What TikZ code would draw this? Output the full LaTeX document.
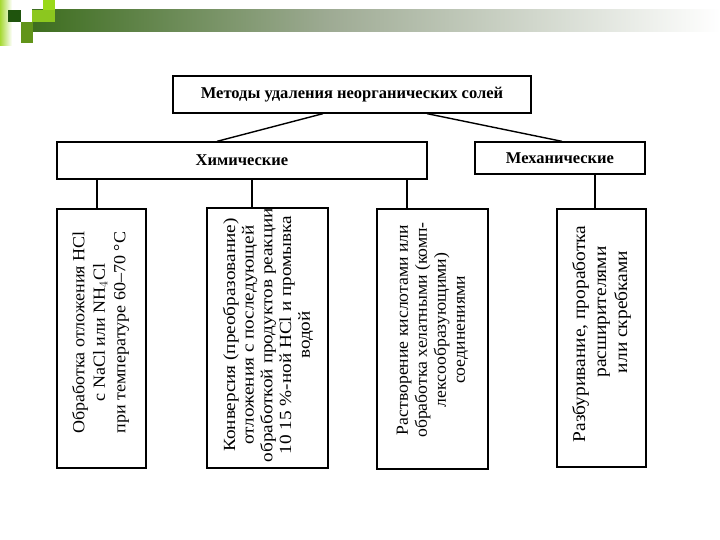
\documentclass[tikz,border=0pt]{standalone}
\usepackage{fontspec}
\setmainfont{Liberation Serif}
\newfontfamily\fsa[FakeStretch=1.06]{Liberation Serif}
\newfontfamily\fsb[FakeStretch=1.13]{Liberation Serif}
\newfontfamily\fsc[FakeStretch=1.04]{Liberation Serif}
\newfontfamily\fsd[FakeStretch=1.08]{Liberation Serif}
\definecolor{gdark}{rgb}{0.24,0.43,0.12}
\definecolor{gmid}{rgb}{0.62,0.67,0.58}
\definecolor{gsq1}{rgb}{0.12,0.33,0.05}
\definecolor{gsq2}{rgb}{0.55,0.78,0.12}
\definecolor{gsq3}{rgb}{0.6,0.85,0.1}
\definecolor{gsq4}{rgb}{0.38,0.58,0.1}
\definecolor{glight}{rgb}{0.65,0.85,0.2}
\begin{document}
\begin{tikzpicture}[x=1pt,y=1pt,
  box/.style={draw=black,line width=1.3pt,fill=white,inner sep=0pt,align=center},
  head/.style={box,font=\fontsize{16.5}{19}\selectfont\bfseries},
  vtext/.style={rotate=90,inner sep=0pt,align=center},
  conn/.style={line width=1.4pt}]
\useasboundingbox (0,0) rectangle (720,-540);
% header decoration
\shade[left color=glight,right color=white] (0,0) rectangle (12,-46);
\shade[left color=gdark,right color=gmid] (32,-10) rectangle (330,-32);
\shade[left color=gmid,right color=white] (330,-10) rectangle (720,-32);
\fill[gsq1] (8,-10) rectangle (21,-22);
\fill[gsq2] (32,-10) rectangle (55,-22);
\fill[gsq3] (43,0) rectangle (55,-10);
\fill[gsq4] (21,-22) rectangle (33,-43);
% boxes
\node[head,minimum width=358,minimum height=37] (top) at (352,-94.5) {Методы удаления неорганических солей};
\node[head,minimum width=370,minimum height=37] (chem) at (242,-160.5) {Химические};
\node[head,minimum width=170,minimum height=32] (mech) at (560,-158) {Механические};
\node[box,minimum width=89,minimum height=259] (b1) at (101.5,-338.5) {};
\node[box,minimum width=121,minimum height=260] (b2) at (267.5,-338) {};
\node[box,minimum width=111,minimum height=260] (b3) at (432.5,-339) {};
\node[box,minimum width=89,minimum height=258] (b4) at (601.5,-338) {};
\node[vtext,font=\fsa\fontsize{17}{20.5}\selectfont] (t1) at (100.5,-332.5)
  {Обработка отложения HCl\\с NaCl или NH$_4$Cl\\при температуре 60–70 °С};
\node[vtext,font=\fsb\fontsize{17}{18.7}\selectfont] (t2) at (268,-335)
  {Конверсия (преобразование)\\отложения с последующей\\обработкой продуктов реакции\\10 15 \%-ной HCl и промывка\\водой};
\node[vtext,font=\fsc\fontsize{17}{19}\selectfont] (t3) at (432.5,-330)
  {Растворение кислотами или\\обработка хелатными (комп-\\лексообразующими)\\соединениями};
\node[vtext,font=\fsd\fontsize{18}{21}\selectfont] (t4) at (601.5,-334)
  {Разбуривание, проработка\\\hspace*{44pt}расширителями\\\hspace*{44pt}или скребками};
% connectors
\draw[conn] ([xshift=-29]top.south) -- ([xshift=-25]chem.north);
\draw[conn] ([xshift=75]top.south) -- ([xshift=2]mech.north);
\draw[conn] ([xshift=-4.5]b1.north) -- ([xshift=-4.5]b1.north |- chem.south);
\draw[conn] ([xshift=-15.5]b2.north) -- ([xshift=-15.5]b2.north |- chem.south);
\draw[conn] ([xshift=-25.5]b3.north) -- ([xshift=-25.5]b3.north |- chem.south);
\draw[conn] ([xshift=-6.5]b4.north) -- ([xshift=-6.5]b4.north |- mech.south);
\end{tikzpicture}
\end{document}
